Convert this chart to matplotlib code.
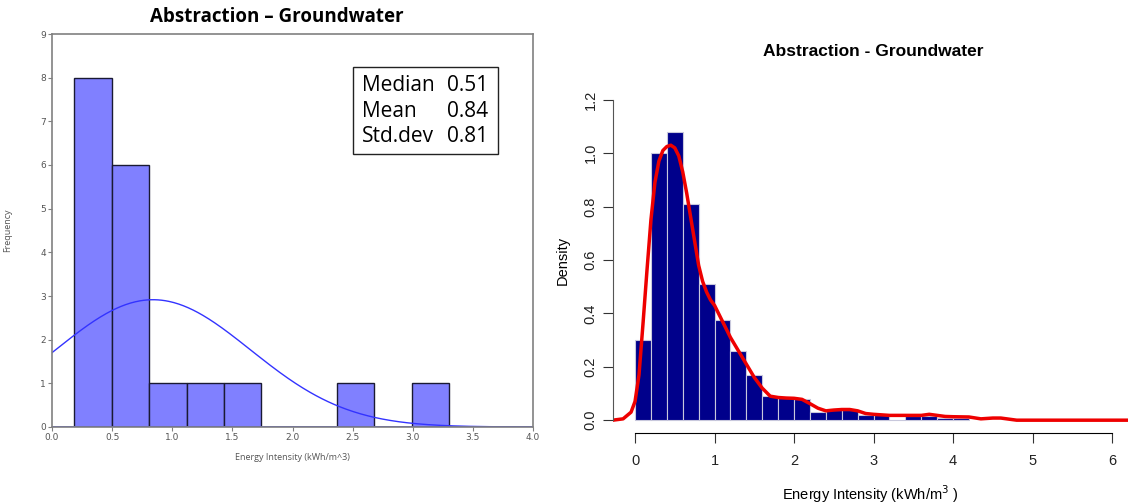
import matplotlib.pyplot as plt
import numpy as np
from matplotlib.patches import Rectangle

# ---- left panel data (frequency histogram) ----
left_edges = [0.185, 0.50, 0.81, 1.12, 1.43, 1.74, 2.05, 2.37, 2.68, 2.99, 3.30]
left_counts = [8, 6, 1, 1, 1, 0, 0, 1, 0, 1]
stat_names = ["Median", "Mean", "Std.dev"]
stat_values = [0.51, 0.84, 0.81]

# ---- right panel data (density histogram + kde) ----
right_edges = [0.0, 0.2, 0.4, 0.6, 0.8, 1.0, 1.2, 1.4, 1.6, 1.8, 2.0, 2.2,
               2.4, 2.6, 2.8, 3.0, 3.2, 3.4, 3.6, 3.8, 4.0, 4.2]
right_density = [0.30, 1.00, 1.08, 0.81, 0.51, 0.375, 0.26, 0.17, 0.09,
                 0.083, 0.08, 0.03, 0.04, 0.04, 0.02, 0.02, 0.0, 0.017,
                 0.017, 0.01, 0.01]
kde_x = [-0.28, -0.15, -0.05, 0.0, 0.05, 0.1, 0.15, 0.2, 0.25, 0.3, 0.35,
         0.4, 0.45, 0.5, 0.55, 0.6, 0.65, 0.7, 0.75, 0.8, 0.85, 0.9, 0.95,
         1.0, 1.1, 1.2, 1.3, 1.4, 1.5, 1.6, 1.7, 1.8, 1.9, 2.0, 2.1, 2.2,
         2.3, 2.4, 2.5, 2.6, 2.7, 2.8, 2.9, 3.0, 3.2, 3.4, 3.6, 3.7, 3.8,
         3.9, 4.0, 4.2, 4.35, 4.5, 4.6, 4.8, 6.3]
kde_y = [0.0, 0.005, 0.03, 0.07, 0.17, 0.36, 0.56, 0.75, 0.89, 0.97, 1.01,
         1.025, 1.03, 1.02, 0.99, 0.93, 0.85, 0.76, 0.67, 0.58, 0.52, 0.48,
         0.45, 0.43, 0.37, 0.31, 0.26, 0.21, 0.16, 0.12, 0.09, 0.085, 0.083,
         0.082, 0.078, 0.062, 0.045, 0.035, 0.038, 0.04, 0.04, 0.035, 0.025,
         0.022, 0.018, 0.018, 0.018, 0.022, 0.018, 0.014, 0.013, 0.012,
         0.005, 0.008, 0.008, 0.0, 0.0]

fig = plt.figure(figsize=(11.28, 5.04), dpi=100)

# ============================================
#              left panel
# ============================================
ax1 = fig.add_axes([52/1128, 1 - 427/504, 481/1128, 393/504])
widths = np.diff(left_edges)
ax1.bar(left_edges[:-1], left_counts, width=widths, align='edge',
        color='#8080ff', edgecolor='#1a1a33', linewidth=1.0)

# normal curve from the summary stats, scaled to counts
n = sum(left_counts)
scale = n * widths.mean()
xs = np.linspace(0, 4, 400)
mu, sd = stat_values[1], stat_values[2]
ys = scale * np.exp(-0.5 * ((xs - mu) / sd) ** 2) / (sd * np.sqrt(2 * np.pi))
ax1.plot(xs, ys, color='#3333ff', linewidth=1.0)
ax1.plot([0, 4], [0, 0], color='#3333ff', linewidth=1.2)

ax1.set_xlim(0, 4)
ax1.set_ylim(0, 9)
ax1.set_xticks(np.arange(0, 4.01, 0.5))
ax1.set_xticklabels([f"{v:.1f}" for v in np.arange(0, 4.01, 0.5)])
ax1.set_yticks(range(10))
for s in ax1.spines.values():
    s.set_color('#808080')
    s.set_linewidth(1.2)
ax1.tick_params(colors='#808080', labelcolor='#555555', labelsize=6.5,
                length=3, pad=1.5)
ax1.set_xlabel("Energy Intensity (kWh/m^3)", fontsize=6.5, color='#555555',
               family='Open Sans', labelpad=8)
ax1.set_ylabel("Frequency", fontsize=6.5, color='#555555', family='Open Sans')
ax1.yaxis.set_label_coords(-0.083, 0.5)
fig.text(277/1128, 1 - 17/504, "Abstraction \u2013 Groundwater", fontsize=13.5,
         fontweight='bold', family='Open Sans', ha='center', va='center')

# stats box
ax1.add_patch(Rectangle((2.50, 6.245), 1.206, 2.006, fill=False,
                        edgecolor='#222222', linewidth=1.0, zorder=5))
for i, (nm, v) in enumerate(zip(stat_names, stat_values)):
    yy = 7.81 - i * 0.575
    ax1.text(2.58, yy, nm, fontsize=15, family='Open Sans',
             va='center', ha='left')
    ax1.text(3.287, yy, f"{v:.2f}", fontsize=15, family='Open Sans',
             va='center', ha='left')

# ============================================
#              right panel
# ============================================
ax2 = fig.add_axes([613/1128, 1 - 433/504, 515/1128, 346/504])
rw = np.diff(right_edges)
ax2.bar(right_edges[:-1], right_density, width=rw, align='edge',
        color='#00008b', edgecolor='#c8c8dc', linewidth=0.8)
ax2.plot(kde_x, kde_y, color='#ee0000', linewidth=2.5)

ax2.set_xlim(-0.277, 6.2)
ax2.set_ylim(-0.048, 1.248)
ax2.spines['top'].set_visible(False)
ax2.spines['right'].set_visible(False)
ax2.spines['left'].set_bounds(0, 1.2)
ax2.spines['left'].set_color('#555555')
ax2.spines['bottom'].set_bounds(0, 6)
ax2.set_xticks(range(7))
ax2.set_yticks(np.arange(0, 1.21, 0.2))
ax2.set_yticklabels([f"{v:.1f}" for v in np.arange(0, 1.21, 0.2)],
                    rotation=90, va='center')
ax2.tick_params(labelsize=10.5, length=7, pad=4, colors='#333333',
                labelcolor='#222222')
ax2.tick_params(axis='x', pad=8)
for lab in ax2.get_xticklabels() + ax2.get_yticklabels():
    lab.set_family('Liberation Sans')
ax2.set_ylabel("Density", fontsize=10.5, family='Liberation Sans', labelpad=10)
ax2.set_xlabel("Energy Intensity (kWh/m$^3$ )", fontsize=10.5,
               family='Liberation Sans', labelpad=11)
fig.text(873/1128, 1 - 52/504, "Abstraction - Groundwater", fontsize=12.5,
         fontweight='bold', family='Liberation Sans', ha='center', va='center')

fig.savefig("out.png", dpi=100)
